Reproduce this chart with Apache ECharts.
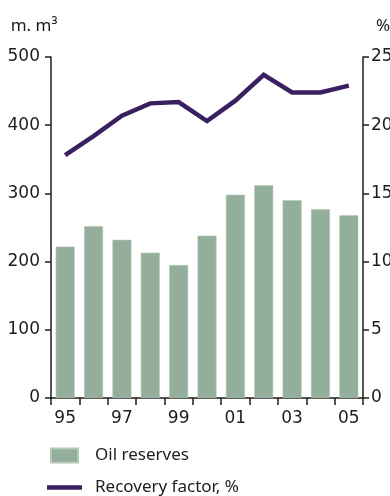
<!DOCTYPE html>
<html>
<head>
<meta charset="utf-8">
<script src="https://cdn.jsdelivr.net/npm/echarts@6/dist/echarts.min.js"></script>
<style>
  html, body { margin: 0; padding: 0; background: #fff; }
  #chart { width: 390px; height: 496px; }
</style>
</head>
<body>
<div id="chart"></div>
<script>
// Years (two-digit labels) and the two series
const years = ['95', '96', '97', '98', '99', '00', '01', '02', '03', '04', '05'];
const oilReserves = [222, 252, 232, 213, 195, 238, 298, 312, 290, 277, 268];       // million m³
const recoveryFactor = [17.8, 19.2, 20.7, 21.6, 21.7, 20.3, 21.8, 23.7, 22.4, 22.4, 22.9]; // %

const leftTicks = [0, 100, 200, 300, 400, 500];
const rightTicks = [0, 5, 10, 15, 20, 25];

const ink = '#1d1d1b';
const textFont = 'Noto Sans';
const numFont = 'DejaVu Sans';

const chart = echarts.init(document.getElementById('chart'), null, { renderer: 'canvas' });

chart.setOption({
  animation: false,
  textStyle: { fontFamily: textFont, color: ink },
  grid: { left: 51, right: 27, top: 57, bottom: 98, containLabel: false, outerBoundsMode: 'none' },
  legend: [
    {
      data: ['Oil reserves'],
      orient: 'vertical',
      left: 50, top: 447,
      padding: 0,
      itemWidth: 27, itemHeight: 14,
      icon: 'rect',
      textStyle: { fontFamily: textFont, fontSize: 17, color: ink, padding: [0, 0, 0, 12] }
    },
    {
      data: ['Recovery factor, %'],
      orient: 'vertical',
      left: 47, top: 479,
      padding: 0,
      itemWidth: 35, itemHeight: 4.5,
      icon: 'rect',
      textStyle: { fontFamily: textFont, fontSize: 17, color: ink, padding: [0, 0, 0, 8] }
    }
  ],
  xAxis: {
    type: 'category',
    data: years,
    boundaryGap: true,
    axisLine: { lineStyle: { color: ink, width: 1.5 } },
    axisTick: { show: true, length: 7, interval: 0, lineStyle: { color: ink, width: 1.5 } },
    axisLabel: { interval: 1, fontSize: 17, color: ink, margin: 12, fontFamily: numFont }
  },
  yAxis: [
    {
      type: 'value',
      min: leftTicks[0], max: leftTicks[leftTicks.length - 1], interval: 100,
      position: 'left',
      name: 'm. m³',
      nameLocation: 'end',
      nameGap: 22,
      nameTextStyle: { fontSize: 17, color: ink, align: 'center', padding: [0, 34, 0, 0], fontFamily: textFont },
      axisLine: { show: true, lineStyle: { color: ink, width: 1.5 } },
      axisTick: { show: true, length: 6, lineStyle: { color: ink, width: 1.5 } },
      axisLabel: { fontSize: 17, color: ink, margin: 11, fontFamily: numFont },
      splitLine: { show: false }
    },
    {
      type: 'value',
      min: rightTicks[0], max: rightTicks[rightTicks.length - 1], interval: 5,
      position: 'right',
      name: '%',
      nameLocation: 'end',
      nameGap: 22,
      nameTextStyle: { fontSize: 17, color: ink, align: 'left', padding: [0, 0, 0, 13], fontFamily: textFont },
      axisLine: { show: true, lineStyle: { color: ink, width: 1.5 } },
      axisTick: { show: true, length: 6, lineStyle: { color: ink, width: 1.5 } },
      axisLabel: { fontSize: 17, color: ink, margin: 8, fontFamily: numFont },
      splitLine: { show: false }
    }
  ],
  series: [
    {
      name: 'Oil reserves',
      type: 'bar',
      yAxisIndex: 0,
      data: oilReserves,
      barWidth: 19,
      itemStyle: { color: '#93ae9a', borderColor: '#b4c8b9', borderWidth: 0.6 }
    },
    {
      name: 'Recovery factor, %',
      type: 'line',
      yAxisIndex: 1,
      data: recoveryFactor,
      symbol: 'none',
      lineStyle: { color: '#3b2060', width: 4.5, join: 'miter' },
      itemStyle: { color: '#3b2060' }
    }
  ]
});
</script>
</body>
</html>
